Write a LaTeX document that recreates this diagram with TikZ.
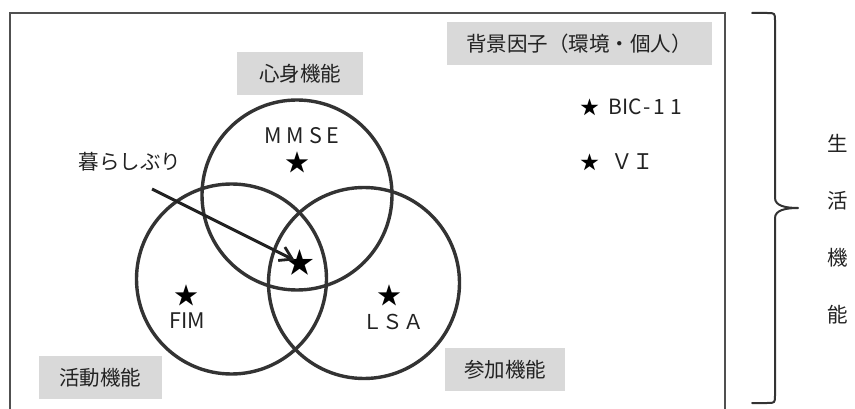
\documentclass[tikz,border=0pt]{standalone}
\usepackage{fontspec}
\setmainfont{Noto Sans CJK JP}
\newfontfamily\jpfont{Noto Sans CJK JP}
\newfontfamily\jpwide[LetterSpace=22]{Noto Sans CJK JP}
\usetikzlibrary{arrows.meta}
\definecolor{labgray}{HTML}{D9D9D9}
\definecolor{ringc}{HTML}{333333}
\definecolor{framec}{HTML}{505050}
\definecolor{txtc}{HTML}{222222}
\begin{document}
\begin{tikzpicture}[x=1pt,y=-1pt,
  lab/.style={fill=labgray, inner sep=0pt, minimum height=43pt, text=txtc,
              font=\jpfont\fontsize{20.5}{24}\selectfont},
  txt/.style={inner sep=0pt, text=txtc, font=\jpfont\fontsize{20.5}{24}\selectfont},
  widetxt/.style={inner sep=0pt, text=txtc, font=\jpwide\fontsize{21.5}{24}\selectfont},
  staricon/.style={inner sep=0pt, text=black, font=\jpfont\fontsize{24}{28}\selectfont},
  sidestar/.style={inner sep=0pt, text=black, font=\jpfont\fontsize{19}{22}\selectfont},
  bigstar/.style={inner sep=0pt, text=black, font=\jpfont\fontsize{29}{32}\selectfont},
  ring/.style={draw=ringc, line width=3.4pt},
  frame/.style={draw=framec, line width=2pt},
  brace/.style={draw=ringc, line width=2pt, line cap=round, line join=round},
  arr/.style={draw=txtc, line width=3pt,
              -{Straight Barb[length=12pt,width=15pt,line width=2.8pt]}}]
\useasboundingbox (0,0) rectangle (855,409);
\clip (0,0) rectangle (855,409);

% outer frame (bottom runs off the picture)
\coordinate (fbl) at (10,415);
\coordinate (ftr) at (725,13);
\coordinate (fbr) at (725,415);
\draw[frame] (fbl) |- (ftr) -- (fbr);

% label boxes
\node[lab, minimum width=126pt] (shin) at (300,73.5) {心身機能};
\node[lab, minimum width=265pt] (haikei) at (579,43.5) {背景因子（環境・個人）};
\node[lab, minimum width=123pt] (katsu) at (100.5,377.5) {活動機能};
\node[lab, minimum width=120pt] (sanka) at (505,369.5) {参加機能};

% circles
\draw[ring] (297,195) circle[radius=95];
\draw[ring] (231.5,279) circle[radius=95];
\draw[ring] (364,283) circle[radius=95.5];

% circle contents
\node[widetxt] (mmse) at (302,136) {MMSE};
\node[staricon] (smmse) at (297,162) {★};
\node[staricon] (sfim) at (186,295) {★};
\node[txt, font=\jpfont\fontsize{21.5}{24}\selectfont] (fim) at (187,321) {FIM};
\node[staricon] (slsa) at (389,295) {★};
\node[txt] (lsa) at (393,322) {ＬＳＡ};
\node[bigstar] (cstar) at (300,263) {★};

% kurashiburi
\node[txt] (kurashi) at (130,162) {暮らしぶり};
\coordinate (astart) at (152,189);
\draw[arr, shorten >=6pt] (astart) -- (cstar.center);

% background factors
\node[sidestar] (sbic) at (590,107) {★};
\node[txt, font=\jpfont\fontsize{21}{24}\selectfont, anchor=west] (bic) at (608,107) {BIC\kern2pt-\kern3pt1\kern5pt1};
\node[sidestar] (svi) at (590,162) {★};
\node[txt, font=\jpfont\fontsize{21.5}{24}\selectfont, anchor=west] (vi) at (611,162) {ＶＩ};

% brace
\coordinate (btop) at (752,13);
\coordinate (btip) at (798,208);
\coordinate (bbot) at (752,403);
\draw[brace] (btop) -- (767,13) .. controls (775,13) .. (775,21) -- (775,198)
  .. controls (775,206) and (786,208) .. (btip)
  .. controls (786,208) and (775,210) .. (775,218) -- (775,395)
  .. controls (775,403) .. (767,403) -- (bbot);

% vertical text
\node[txt] (v1) at (838,143.5) {生};
\node[txt] (v2) at (838,200.5) {活};
\node[txt] (v3) at (838,257.5) {機};
\node[txt] (v4) at (838,314.5) {能};
\end{tikzpicture}
\end{document}
